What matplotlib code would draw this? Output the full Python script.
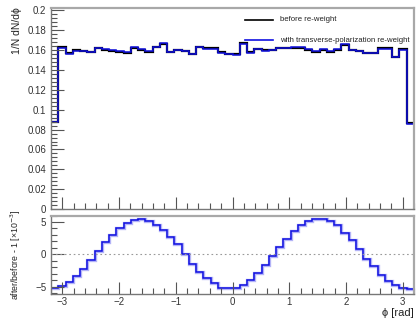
import numpy as np
import matplotlib
matplotlib.use("Agg")
import matplotlib.pyplot as plt
from matplotlib.ticker import MultipleLocator

plt.rcParams['font.family'] = ['Liberation Sans', 'DejaVu Sans']

# ---- data ----
phi_min, phi_max, n_bins = -3.2, 3.2, 50

before = [0.0878, 0.1632, 0.1573, 0.1597, 0.1595, 0.1582, 0.1617, 0.1605, 0.1592, 0.1585,
          0.1572, 0.1623, 0.1605, 0.1580, 0.1628, 0.1665, 0.1580, 0.1597, 0.1590, 0.1565,
          0.1637, 0.1622, 0.1620, 0.1578, 0.1565, 0.1560, 0.1670, 0.1580, 0.1612, 0.1598,
          0.1600, 0.1620, 0.1620, 0.1622, 0.1625, 0.1605, 0.1580, 0.1600, 0.1582, 0.1603,
          0.1655, 0.1597, 0.1590, 0.1572, 0.1572, 0.1618, 0.1618, 0.1535, 0.1608, 0.0862]

after = [0.0874, 0.1624, 0.1566, 0.1592, 0.1591, 0.1581, 0.1618, 0.1608, 0.1597, 0.1591,
         0.1580, 0.1632, 0.1614, 0.1588, 0.1635, 0.1671, 0.1584, 0.1599, 0.1590, 0.1563,
         0.1633, 0.1616, 0.1613, 0.1570, 0.1557, 0.1552, 0.1662, 0.1574, 0.1607, 0.1595,
         0.1600, 0.1622, 0.1624, 0.1628, 0.1632, 0.1613, 0.1589, 0.1609, 0.1590, 0.1610,
         0.1660, 0.1600, 0.1591, 0.1571, 0.1569, 0.1613, 0.1611, 0.1528, 0.1600, 0.0857]

ratio = [-5.18, -4.87, -4.30, -3.33, -2.20, -0.92, 0.46, 1.85, 2.97, 4.05,
         4.87, 5.28, 5.44, 5.18, 4.56, 3.80, 2.67, 1.54, 0.00, -1.44,
         -2.72, -3.64, -4.46, -5.15, -5.25, -5.25, -4.67, -3.90, -2.92, -1.59,
         -0.31, 1.18, 2.41, 3.59, 4.46, 5.08, 5.49, 5.44, 5.13, 4.46,
         3.33, 2.15, 0.77, -0.67, -1.85, -3.13, -4.15, -4.77, -5.18, -5.28]

labels = ["before re-weight", "with transverse-polarization re-weight"]

edges = np.linspace(phi_min, phi_max, n_bins + 1)

W, H = 416, 321
fig = plt.figure(figsize=(W / 100, H / 100), dpi=100)

L, R = 51 / W, 414 / W
ax1 = fig.add_axes([L, 1 - 209 / H, R - L, (209 - 7.5) / H])
ax2 = fig.add_axes([L, 1 - 294 / H, R - L, (294 - 215.5) / H])

tick_col = '#333333'
frame_col = '#a8a8a8'

def style(ax):
    for s in ax.spines.values():
        s.set_color(frame_col)
        s.set_linewidth(1.6)
    ax.spines['left'].set_color('#777777')
    ax.spines['left'].set_linewidth(1.0)
    ax.spines['bottom'].set_color('#777777')
    ax.spines['bottom'].set_linewidth(1.0)
    ax.tick_params(which='both', direction='in', top=False, right=False,
                   colors='#555555', labelcolor=tick_col, labelsize=7, width=0.8)
    ax.tick_params(which='major', length=9)
    ax.tick_params(which='minor', length=4.5)
    ax.tick_params(axis='x', pad=2)
    ax.xaxis.set_major_locator(MultipleLocator(1))
    ax.xaxis.set_minor_locator(MultipleLocator(0.2))
    ax.set_xlim(phi_min, phi_max)

# top panel
style(ax1)
ax1.stairs(before, edges, color='black', lw=1.6, baseline=None)
ax1.stairs(after, edges, color='#1010e0', lw=1.1, baseline=None)
ax1.set_ylim(0, 0.203)
ax1.yaxis.set_minor_locator(MultipleLocator(0.004))
ax1.set_yticks(np.arange(0, 0.201, 0.02))
ax1.set_yticklabels(['0', '0.02', '0.04', '0.06', '0.08', '0.1', '0.12', '0.14', '0.16', '0.18', '0.2'])
ax1.tick_params(axis='x', labelbottom=False)
ax1.set_ylabel('1/N dN/dϕ', fontsize=7.5, color='#222222', loc='top', labelpad=4)

# legend (drawn manually as in ROOT)
ax1.plot([0.535, 0.612], [0.938, 0.938], transform=ax1.transAxes, color='black', lw=1.2)
ax1.text(0.630, 0.938, labels[0], transform=ax1.transAxes, fontsize=5.6,
         va='center', ha='left', color='#222222')
ax1.plot([0.535, 0.612], [0.838, 0.838], transform=ax1.transAxes, color='#1010e0', lw=1.2)
ax1.text(0.630, 0.838, labels[1], transform=ax1.transAxes, fontsize=5.6,
         va='center', ha='left', color='#222222')

# bottom panel
style(ax2)
ax2.stairs(ratio, edges, color='#a0a0f5', lw=2.4, baseline=None, alpha=0.8)
ax2.stairs(ratio, edges, color='#1010e0', lw=1.1, baseline=None)
ax2.axhline(0, color='#999999', lw=0.8, ls=(0, (1.5, 2.5)))
ax2.set_ylim(-6.1, 6.0)
ax2.yaxis.set_minor_locator(MultipleLocator(1))
ax2.set_yticks([-5, 0, 5])
ax2.set_yticklabels(['−5', '0', '5'])
ax2.set_xticks([-3, -2, -1, 0, 1, 2, 3])
ax2.set_xticklabels(['−3', '−2', '−1', '0', '1', '2', '3'])
ax2.set_ylabel('after/before - 1 [×10$^{-3}$]', fontsize=6.3, color='#222222', labelpad=9)
fig.text(R, 1 - 313 / H, 'ϕ [rad]', fontsize=8, color='#222222', ha='right', va='center')

fig.savefig('out.png', dpi=100)
